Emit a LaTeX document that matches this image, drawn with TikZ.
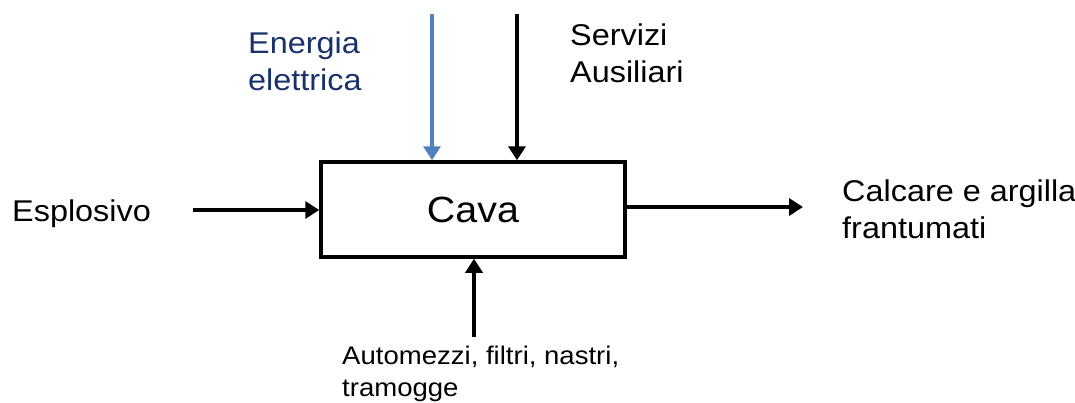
\documentclass[tikz,border=0pt]{standalone}
\usepackage{fontspec}
\setmainfont{Liberation Sans}[FakeStretch=1.08]
\usetikzlibrary{arrows.meta}
\definecolor{navytext}{RGB}{26,50,108}
\definecolor{bluearrow}{RGB}{79,129,189}
\tikzset{
  flow/.style={line width=4.2pt, -{Triangle[width=17pt 0, length=14pt 0]}},
  lbl/.style={anchor=base west, inner sep=0pt, align=left, font=\fontsize{30}{37}\selectfont},
  smalllbl/.style={anchor=base west, inner sep=0pt, align=left, font=\fontsize{25.5}{32}\selectfont},
  procbox/.style={draw, line width=3.5pt, minimum width=304pt, minimum height=95pt, inner sep=0pt, font=\fontsize{36.5}{40}\selectfont}
}
\begin{document}
\begin{tikzpicture}[x=1pt,y=-1pt]
\useasboundingbox (0,0) rectangle (1075,402);
\node[procbox] (box) at (473,209.5) {Cava};
\coordinate (etop) at (432,14);
\coordinate (stop) at (517,14);
\coordinate (lft) at (193,210);
\coordinate (rgt) at (803,207);
\coordinate (bot) at (474,337);
\draw[flow, bluearrow] (etop) -- (etop |- box.north);
\draw[flow] (stop) -- (stop |- box.north);
\draw[flow] (lft) -- (lft -| box.west);
\draw[flow] (rgt -| box.east) -- (rgt);
\draw[flow] (bot) -- (bot |- box.south);
\node[lbl, text=navytext] (en) at (248,90) {Energia\\elettrica};
\node[lbl] (se) at (570,82) {Servizi\\Ausiliari};
\node[lbl] (es) at (12,221) {Esplosivo};
\node[lbl] (ca) at (842,238) {Calcare e argilla\\frantumati};
\node[smalllbl] (au) at (342,396) {Automezzi, filtri, nastri,\\tramogge};
\end{tikzpicture}
\end{document}
